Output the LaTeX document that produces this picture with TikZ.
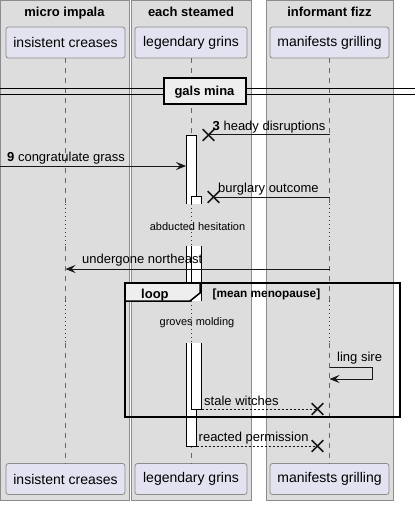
\documentclass[tikz,border=0pt]{standalone}
\usepackage{fontspec}
\setmainfont{Liberation Sans}
\usetikzlibrary{arrows.meta,shapes.misc}
\definecolor{grpfill}{HTML}{DDDDDD}
\definecolor{grpline}{HTML}{8C8C8C}
\definecolor{partfill}{HTML}{E2E2F0}
\definecolor{partline}{HTML}{8C8C8C}
\definecolor{tabfill}{HTML}{EEEEEE}
\definecolor{delayred}{HTML}{A80036}
\definecolor{lifecol}{HTML}{666666}
\definecolor{msgcol}{HTML}{181818}
\tikzset{
 grp/.style={draw=grpline, fill=grpfill, line width=0.8pt},
 grptitle/.style={anchor=base, font=\bfseries\fontsize{13}{15}\selectfont, inner sep=0pt},
 part/.style={draw=partline, fill=partfill, rounded corners=2.5pt, line width=0.8pt, minimum height=31pt, inner sep=0pt, font=\fontsize{14}{16}\selectfont},
 life/.style={draw=lifecol, line width=0.8pt, dash pattern=on 5pt off 5pt},
 delayline/.style={draw=delayred, line width=0.9pt, dash pattern=on 1pt off 3pt},
 actbar/.style={draw=black, line width=0.8pt},
 msg/.style={draw=msgcol, line width=1pt},
 arr/.style={-{Stealth[length=10pt,width=8pt,inset=4pt]}},
 ret/.style={dash pattern=on 2pt off 2pt},
 lost/.style={cross out, draw=msgcol, line width=1.6pt, minimum size=10pt, inner sep=0pt},
 msgtxt/.style={anchor=base west, inner sep=0pt, font=\fontsize{13}{15}\selectfont},
 delaytxt/.style={anchor=base, inner sep=0pt, font=\fontsize{11}{13}\selectfont},
 divbox/.style={draw=black, fill=tabfill, line width=2pt, minimum width=82pt, minimum height=26pt, inner sep=0pt, font=\bfseries\fontsize{13}{15}\selectfont},
 frameline/.style={draw=black, line width=2pt},
 tabline/.style={draw=black, fill=tabfill, line width=1.5pt},
 boldtxt/.style={anchor=base west, inner sep=0pt, font=\bfseries\fontsize{13}{15}\selectfont},
 guardtxt/.style={anchor=base west, inner sep=0pt, font=\bfseries\fontsize{11.8}{13}\selectfont},
}
\begin{document}
\begin{tikzpicture}[x=1pt,y=-1pt]
\useasboundingbox[fill=white] (0,0) rectangle (415,505);
% group boxes
\draw[grp] (0.5,0.5) rectangle (129,500);
\draw[grp] (131,0.5) rectangle (251,500);
\draw[grp] (266,0.5) rectangle (393,500);
\node[grptitle] (g1) at (64.5,17) {micro impala};
\node[grptitle] (g2) at (191,17) {each steamed};
\node[grptitle] (g3) at (329.5,17) {informant fizz};
% participants
\node[part, minimum width=119pt] (pa) at (65.5,42.5) {insistent creases};
\node[part, minimum width=112pt] (pb) at (191,42.5) {legendary grins};
\node[part, minimum width=119pt] (pc) at (329.5,42.5) {manifests grilling};
\node[part, minimum width=119pt] (pa2) at (65.5,479) {insistent creases};
\node[part, minimum width=112pt] (pb2) at (191,479) {legendary grins};
\node[part, minimum width=119pt] (pc2) at (329.5,479) {manifests grilling};
% delay coordinates
\coordinate (d1a) at (0,204);
\coordinate (d1b) at (0,246);
\coordinate (d2a) at (0,301);
\coordinate (d2b) at (0,343);
% lifelines
\foreach \p in {pa,pb,pc}{
  \draw[life] (\p.south) -- (\p.south |- d1a);
  \draw[delayline] (\p.south |- d1a) -- (\p.south |- d1b);
  \draw[life] (\p.south |- d1b) -- (\p.south |- d2a);
  \draw[delayline] (\p.south |- d2a) -- (\p.south |- d2b);
  \draw[life] (\p.south |- d2b) -- (\p 2.north);
}
% activation bars: outer
\fill[white] (186,135) rectangle (196.5,204);
\draw[actbar] (186,204) -- (186,135) -- (196.5,135) -- (196.5,204);
\fill[white] (186,246) rectangle (196.5,301);
\draw[actbar] (186,246) -- (186,301) (196.5,246) -- (196.5,301);
\fill[white] (186,343) rectangle (196.5,446);
\draw[actbar] (186,343) -- (186,446) -- (196.5,446) -- (196.5,343);
% activation bars: nested
\fill[white] (191,196) rectangle (201.5,204);
\draw[actbar] (191,204) -- (191,196) -- (201.5,196) -- (201.5,204);
\fill[white] (191,246) rectangle (201.5,301);
\draw[actbar] (191,246) -- (191,301) (201.5,246) -- (201.5,301);
\fill[white] (191,343) rectangle (201.5,409);
\draw[actbar] (191,343) -- (191,409) -- (201.5,409) -- (201.5,343);
% divider
\coordinate (dl) at (0,89);
\coordinate (dr) at (415,89);
\coordinate (dl2) at (0,95);
\coordinate (dr2) at (415,95);
\draw[black, line width=1pt] (dl) -- (dr) (dl2) -- (dr2);
\node[divbox] (div) at (204.5,91) {};
\node[anchor=base, inner sep=0pt, font=\bfseries\fontsize{13}{15}\selectfont] (divt) at (204.5,96) {gals mina};
% message 1: lost
\node[lost] (x1) at (208.5,135) {};
\draw[msg] (pc.south |- x1) -- (x1.center);
\node[msgtxt] (t1) at (212.5,131) {\textbf{3} heady disruptions};
% message 2: found
\coordinate (s2) at (0,166);
\draw[msg, arr] (s2) -- (186,166);
\node[msgtxt] (t2) at (7,161.5) {\textbf{9} congratulate grass};
% message 3: lost
\node[lost] (x3) at (213.5,197) {};
\draw[msg] (pc.south |- x3) -- (x3.center);
\node[msgtxt] (t3) at (218,192.5) {burglary outcome};
% delay 1
\node[delaytxt] (dt1) at (197.5,230) {abducted hesitation};
% message 4
\coordinate (m4) at (0,269);
\draw[msg, arr] (pc.south |- m4) -- (pa.south |- m4);
\node[msgtxt] (t4) at (82,263.5) {undergone northeast};
% loop frame
\draw[frameline] (125,283) rectangle (400,417);
\draw[tabline] (125,283) -- (200,283) -- (200,293) -- (190,301) -- (125,301) -- cycle;
\node[boldtxt] (lt) at (141,298) {loop};
\node[guardtxt] (gt) at (212.5,297.5) {[mean menopause]};
% delay 2
\node[delaytxt] (dt2) at (197,325) {groves molding};
% self message
\coordinate (m5a) at (0,367);
\coordinate (m5b) at (0,379);
\draw[msg, arr] (pc.south |- m5a) -- (372,367) -- (372,379) -- (pc.south |- m5b);
\node[msgtxt] (t5) at (337,361.5) {ling sire};
% return message lost
\node[lost] (x6) at (317.5,409) {};
\draw[msg, ret] (201.5,409) -- (x6.center);
\node[msgtxt] (t6) at (204,405) {stale witches};
\node[lost] (x7) at (317.5,446) {};
\draw[msg, ret] (196.5,446) -- (x7.center);
\node[msgtxt] (t7) at (198.5,441.5) {reacted permission};
\end{tikzpicture}
\end{document}
